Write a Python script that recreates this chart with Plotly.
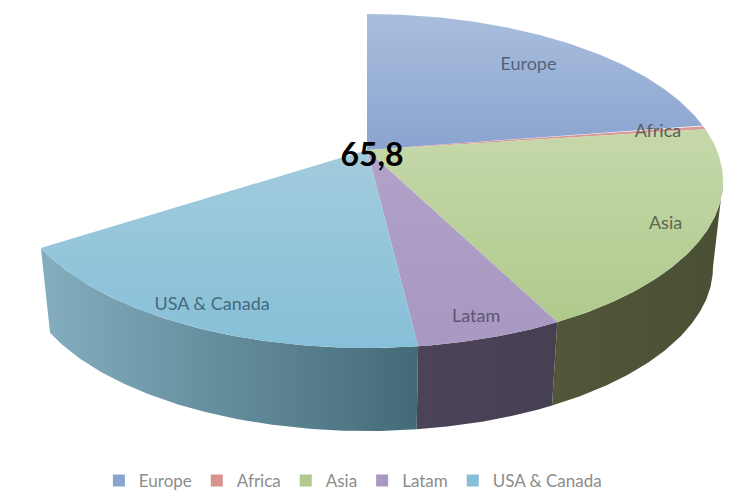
import numpy as np
import plotly.graph_objects as go

regions = ["Europe", "Africa", "Asia", "Latam", "USA & Canada"]
shares = [22.5, 0.4, 19.6, 5.6, 17.7]
total_label = "65,8"
label_radius = [0.79, 0.86, 0.89, 0.90, 0.89]

top_start = ["#a9bedd", "#d99c98", "#c6d8aa", "#b0a2c8", "#a3cbdd"]
top_stop = ["#8aa4d0", "#d69490", "#b0c98c", "#a898c2", "#86c0d8"]
wall_left = ["#6f7f9a", "#9a6a68", "#52573a", "#4c4359", "#84aebf"]
wall_right = ["#6f7f9a", "#9a6a68", "#4a5033", "#464052", "#436a77"]
label_color = ["#55627a", "#5b5f5a", "#5c6650", "#5d5570", "#47697a"]

W, H = 754, 502
CX = 367.0
TOP = dict(cy=181.0, rx=356.0, ry=167.0)
BOT = dict(cy=267.0, rx=346.0, ry=164.0)
K = 0.186
S = np.sqrt(1 - K**2)


def project(theta_deg, r=1.0, e=TOP):
    """Clockwise-from-back pie angle -> screen point on a perspective-viewed disc."""
    a = np.radians(theta_deg)
    u, v = r * np.sin(a), r * np.cos(a)
    d = 1 + K * v
    X, Y = u * S / d, (v + K) / d
    return CX + e["rx"] * X, e["cy"] - e["ry"] * Y


fig = go.Figure()
edges = np.concatenate([[0], np.cumsum(shares)]) * 3.6
wall_from = np.degrees(np.arctan2(S, -K))

# side walls
for i in range(len(regions)):
    a0, a1 = max(edges[i], wall_from), edges[i + 1]
    if a1 <= a0:
        continue
    th = np.linspace(a0, a1, 90)
    x1, y1 = project(th, e=TOP)
    x2, y2 = project(th[::-1], e=BOT)
    fig.add_trace(go.Scatter(
        x=np.r_[x1, x2], y=np.r_[y1, y2], mode="lines", line=dict(width=0),
        fill="toself", hoverinfo="skip", showlegend=False,
        fillgradient=dict(type="horizontal",
                          colorscale=[[0, wall_left[i]], [1, wall_right[i]]]),
    ))

# top faces
for i in range(len(regions)):
    th = np.linspace(edges[i], edges[i + 1], 120)
    x, y = project(th)
    cx, cy = project(0.0, 0.0)
    fig.add_trace(go.Scatter(
        x=np.r_[cx, x, cx], y=np.r_[cy, y, cy], mode="lines", line=dict(width=0),
        fill="toself", hoverinfo="skip", showlegend=False,
        fillgradient=dict(type="vertical",
                          colorscale=[[0, top_stop[i]], [1, top_start[i]]]),
    ))

# slice labels
for i, name in enumerate(regions):
    mid = (edges[i] + edges[i + 1]) / 2
    x, y = project(mid, label_radius[i])
    fig.add_trace(go.Scatter(
        x=[x], y=[y + 2.5], mode="text", text=[name], textposition="middle center",
        textfont=dict(family="Lato", size=18, color=label_color[i]),
        hoverinfo="skip", showlegend=False,
    ))

# total in the centre
cx, cy = project(0.0, 0.0)
fig.add_trace(go.Scatter(
    x=[cx + 5], y=[cy + 8], mode="text", text=[f"<b>{total_label}</b>"],
    textposition="middle center",
    textfont=dict(family="Lato", size=32, color="#000000"),
    hoverinfo="skip", showlegend=False,
))

# legend entries
for i, name in enumerate(regions):
    fig.add_trace(go.Scatter(
        x=[None], y=[None], mode="markers", name=name,
        marker=dict(symbol="square", size=10, color=top_stop[i]),
    ))

fig.update_layout(
    width=W, height=H, margin=dict(l=0, r=0, t=0, b=0),
    paper_bgcolor="white", plot_bgcolor="white",
    xaxis=dict(range=[0, W], visible=False, fixedrange=True),
    yaxis=dict(range=[H, 0], visible=False, fixedrange=True),
    legend=dict(orientation="h", x=0.468, xanchor="center", y=0.042, yanchor="middle",
                font=dict(family="Lato", size=17, color="#8c8c8c"),
                itemsizing="constant", itemwidth=30),
)
fig.write_html("out.html", config={"displayModeBar": False},
               post_script="document.body.style.margin='0';")
